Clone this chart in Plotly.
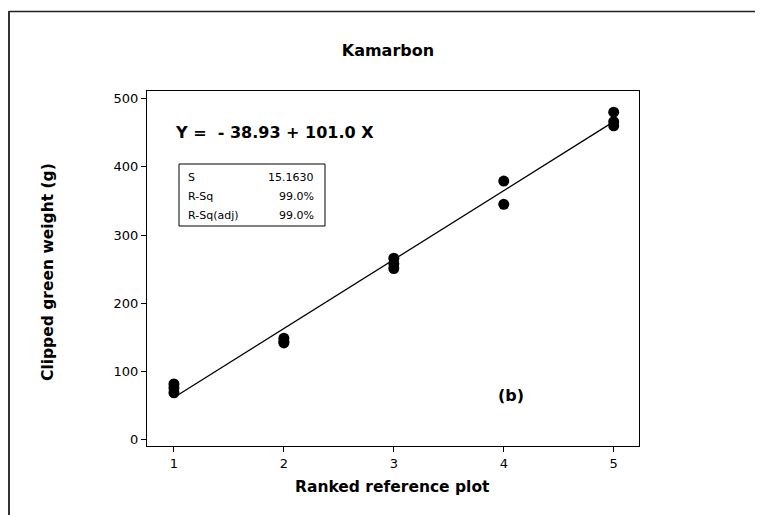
import plotly.graph_objects as go

# ---- data ----
rank = [1, 1, 1, 2, 2, 2, 3, 3, 3, 4, 4, 5, 5, 5]
weight = [82, 76, 69, 149, 144, 142, 266, 258, 251, 379, 345, 480, 466, 460]
intercept = -38.93
slope = 101.0
fit_x = [1, 5]
stats_names = ["S", "R-Sq", "R-Sq(adj)"]
stats_vals = ["15.1630", "99.0%", "99.0%"]
x_ticks = [1, 2, 3, 4, 5]
y_ticks = [0, 100, 200, 300, 400, 500]

W, H = 763, 515
OFF = 8  # page body margin
L, R, T, B = 147, 639, 91, 446  # plot area, page pixels


def px(x):
    return (x - L) / (R - L)


def py(y):
    return (B - y) / (B - T)


FONT = "DejaVu Sans, Verdana, sans-serif"

fig = go.Figure()
fig.add_trace(go.Scatter(
    x=fit_x, y=[intercept + slope * v for v in fit_x], mode="lines",
    line=dict(color="black", width=1.3), hoverinfo="skip", showlegend=False))
fig.add_trace(go.Scatter(
    x=rank, y=weight, mode="markers",
    marker=dict(color="black", size=11, line=dict(width=0)), showlegend=False))

shapes = [
    # outer frame (top and left)
    dict(type="line", xref="paper", yref="paper", x0=px(OFF + 1), x1=px(W + 20),
         y0=py(11.5), y1=py(11.5), line=dict(color="#222", width=1.5)),
    dict(type="line", xref="paper", yref="paper", x0=px(OFF + 1), x1=px(OFF + 1),
         y0=py(11), y1=py(H + 20), line=dict(color="#333", width=2)),
    # stats box
    dict(type="rect", xref="paper", yref="paper", x0=px(179), x1=px(325),
         y0=py(226), y1=py(164), line=dict(color="black", width=1),
         fillcolor="white"),
]

annotations = [
    dict(text="<b>Y =  - 38.93 + 101.0 X</b>", xref="paper", yref="paper",
         x=px(173), y=py(133), xanchor="left", yanchor="middle", showarrow=False,
         font=dict(size=16, color="black", family=FONT)),
    dict(text="<b>(b)</b>", xref="paper", yref="paper",
         x=px(496), y=py(395), xanchor="left", yanchor="middle", showarrow=False,
         font=dict(size=16, color="black", family=FONT)),
    dict(text="<b>Ranked reference plot</b>", xref="paper", yref="paper",
         x=px(392), y=py(487), xanchor="center", yanchor="middle", showarrow=False,
         font=dict(size=15.5, color="black", family=FONT)),
    dict(text="<b>Clipped green weight (g)</b>", xref="paper", yref="paper",
         x=px(48), y=py(272), xanchor="center", yanchor="middle", showarrow=False,
         textangle=-90, font=dict(size=15.5, color="black", family=FONT)),
]
row_y = [177, 196, 215]
for name, val, yy in zip(stats_names, stats_vals, row_y):
    annotations.append(dict(text=name, xref="paper", yref="paper", x=px(186), y=py(yy),
                            xanchor="left", yanchor="middle", showarrow=False,
                            font=dict(size=11, color="black", family=FONT)))
    annotations.append(dict(text=val, xref="paper", yref="paper", x=px(316), y=py(yy),
                            xanchor="right", yanchor="middle", showarrow=False,
                            font=dict(size=11, color="black", family=FONT)))

fig.update_layout(
    width=W, height=H,
    margin=dict(l=L - OFF, r=W - (R - OFF), t=T - OFF, b=H - (B - OFF)),
    paper_bgcolor="white", plot_bgcolor="white",
    title=dict(text="<b>Kamarbon</b>", x=px(392), xanchor="center",
               y=1 - (50 - OFF) / H, yanchor="middle",
               font=dict(size=16, color="black", family=FONT)),
    font=dict(family=FONT, color="black", size=13),
    shapes=shapes, annotations=annotations,
    xaxis=dict(range=[0.755, 5.23], tickvals=x_ticks, showgrid=False, zeroline=False,
               showline=True, linecolor="black", linewidth=1.2, mirror=True,
               ticks="outside", ticklen=5, tickcolor="black",
               tickfont=dict(size=13)),
    yaxis=dict(range=[-9, 511], tickvals=y_ticks, showgrid=False, zeroline=False,
               showline=True, linecolor="black", linewidth=1.2, mirror=True,
               ticks="outside", ticklen=5, tickcolor="black",
               tickfont=dict(size=13)),
)

fig.write_html("out.html")
